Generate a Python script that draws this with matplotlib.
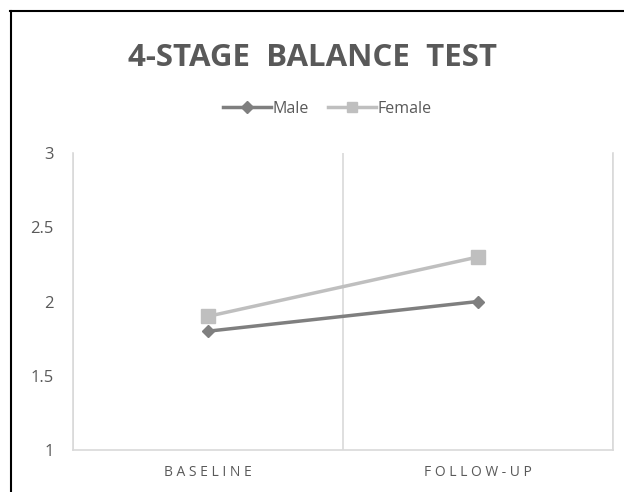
import matplotlib.pyplot as plt
from matplotlib.lines import Line2D

categories = ["BASELINE", "FOLLOW-UP"]
male = [1.8, 2.0]
female = [1.9, 2.3]
y_ticks = [1, 1.5, 2, 2.5, 3]
y_tick_labels = ["1", "1.5", "2", "2.5", "3"]

TEXT = "#595959"
GRID = "#d9d9d9"
MALE_C = "#7f7f7f"
FEMALE_C = "#bfbfbf"

fig = plt.figure(figsize=(6.24, 4.92), dpi=100)
W, H = 624, 492
ax = fig.add_axes([73 / W, 1 - 450 / H, 540 / W, 297 / H])

x = list(range(len(categories)))
ax.plot(x, male, color=MALE_C, lw=2.5, marker="D", ms=6.5, zorder=3)
ax.plot(x, female, color=FEMALE_C, lw=2.5, marker="s", ms=10, zorder=3)

ax.set_xlim(-0.5, len(categories) - 0.5)
ax.set_ylim(1, 3)
ax.set_yticks(y_ticks)
ax.set_yticklabels(y_tick_labels)
ax.set_xticks(x)
ax.set_xticklabels([" ".join(c) for c in categories])
ax.set_xticks([i - 0.5 for i in range(len(categories) + 1)], minor=True)
ax.grid(True, axis="x", which="minor", color=GRID, lw=1.2)
ax.tick_params(axis="both", which="both", length=0)
ax.tick_params(axis="y", colors=TEXT, labelsize=12, pad=14)
ax.tick_params(axis="x", colors=TEXT, labelsize=10, pad=11)
for lbl in ax.get_xticklabels() + ax.get_yticklabels():
    lbl.set_fontfamily("Open Sans")
ax.spines["top"].set_visible(False)
for side in ["left", "bottom", "right"]:
    ax.spines[side].set_color(GRID)
    ax.spines[side].set_linewidth(1.2)

fig.text(313 / W, 1 - 58 / H, "4-STAGE  BALANCE  TEST", ha="center", va="center",
         fontsize=22.5, fontweight="bold", color=TEXT, family="Open Sans")

handles = [
    Line2D([], [], color=MALE_C, lw=2.5, marker="D", ms=6),
    Line2D([], [], color=FEMALE_C, lw=2.5, marker="s", ms=7.5),
]
fig.legend(handles, ["Male", "Female"], loc="center", bbox_to_anchor=(327 / W, 1 - 109 / H),
           ncol=2, frameon=False, prop={"family": "Open Sans", "size": 11.5}, labelcolor=TEXT,
           handlelength=3.0, handletextpad=0.1, columnspacing=1.2)

# outer frame of the chart
fig.add_artist(Line2D([10.5 / W, 10.5 / W], [0, 1 - 11 / H], color="black", lw=1.5))
fig.add_artist(Line2D([10 / W, 1], [1 - 11 / H, 1 - 11 / H], color="black", lw=1.5))

fig.savefig("out.png", dpi=100)
